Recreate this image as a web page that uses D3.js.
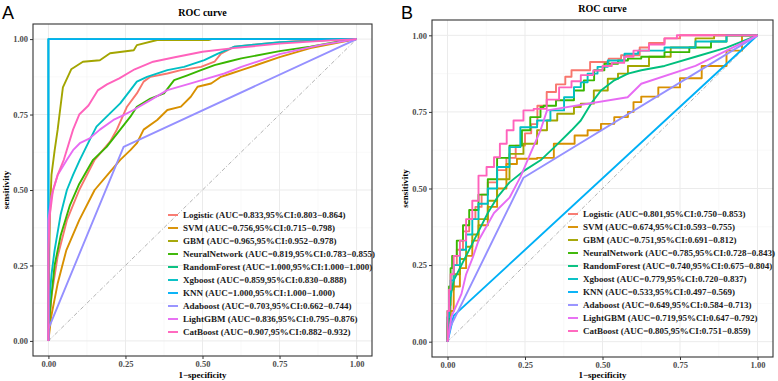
<!DOCTYPE html>
<html><head><meta charset="utf-8">
<script src="https://cdn.jsdelivr.net/npm/d3@7"></script>
<style>body{margin:0;background:#fff}svg{display:block}</style>
</head><body>
<svg id="chart" width="778" height="381"></svg>
<script>
// ---------- DATA ----------
const models = ["Logistic","SVM","GBM","NeuralNetwork","RandomForest","Xgboost","KNN","Adaboost","LightGBM","CatBoost"];
const colors = ["#F8766D","#D89000","#A3A500","#39B600","#00BF7D","#00BFC4","#00B0F6","#9590FF","#E76BF3","#FF62BC"];
const aucA = ["0.833,95%CI:0.803\u22120.864","0.756,95%CI:0.715\u22120.798","0.965,95%CI:0.952\u22120.978","0.819,95%CI:0.783\u22120.855","1.000,95%CI:1.000\u22121.000","0.859,95%CI:0.830\u22120.888","1.000,95%CI:1.000\u22121.000","0.703,95%CI:0.662\u22120.744","0.836,95%CI:0.795\u22120.876","0.907,95%CI:0.882\u22120.932"];
const aucB = ["0.801,95%CI:0.750\u22120.853","0.674,95%CI:0.593\u22120.755","0.751,95%CI:0.691\u22120.812","0.785,95%CI:0.728\u22120.843","0.740,95%CI:0.675\u22120.804","0.779,95%CI:0.720\u22120.837","0.533,95%CI:0.497\u22120.569","0.649,95%CI:0.584\u22120.713","0.719,95%CI:0.647\u22120.792","0.805,95%CI:0.751\u22120.859"];
const ticks = [0,0.25,0.5,0.75,1];
const tickLabels = ["0.00","0.25","0.50","0.75","1.00"];

// panel A curves: [1-specificity, sensitivity]
const logisticA = [[0,0],[0.01,0.15],[0.03,0.28],[0.06,0.4],[0.1,0.5],[0.15,0.6],[0.2,0.66],[0.222,0.70],[0.255,0.776],[0.287,0.82],[0.309,0.859],[0.331,0.875],[0.386,0.886],[0.43,0.897],[0.495,0.908],[0.539,0.925],[0.56,0.952],[0.604,0.975],[0.7,0.985],[0.8,0.993],[1,1]];
const svmA = [[0,0],[0.009,0.08],[0.03,0.19],[0.058,0.3],[0.1,0.4],[0.15,0.5],[0.2,0.56],[0.233,0.60],[0.266,0.632],[0.287,0.655],[0.309,0.70],[0.353,0.732],[0.386,0.765],[0.43,0.776],[0.462,0.809],[0.484,0.842],[0.528,0.853],[0.56,0.875],[0.593,0.886],[0.626,0.897],[0.75,0.94],[0.85,0.97],[1,1]];
const gbmA = [[0,0],[0.003,0.3],[0.005,0.42],[0.01,0.55],[0.02,0.63],[0.03,0.7],[0.036,0.75],[0.047,0.84],[0.074,0.9],[0.112,0.925],[0.167,0.93],[0.2,0.953],[0.277,0.963],[0.287,0.98],[0.353,0.997],[0.52,0.997],[0.53,1],[1,1]];
const nnA = [[0,0],[0.005,0.1],[0.02,0.25],[0.04,0.35],[0.07,0.45],[0.1,0.52],[0.145,0.6],[0.189,0.643],[0.233,0.70],[0.266,0.743],[0.287,0.776],[0.331,0.803],[0.375,0.82],[0.408,0.864],[0.451,0.88],[0.495,0.897],[0.539,0.914],[0.582,0.925],[0.626,0.936],[0.75,0.96],[0.85,0.975],[0.93,0.99],[1,1]];
const rfA = [[0,0],[0,1],[1,1]];
const xgbA = [[0,0],[0.003,0.13],[0.01,0.22],[0.02,0.3],[0.04,0.42],[0.06,0.5],[0.08,0.55],[0.102,0.6],[0.134,0.666],[0.156,0.71],[0.189,0.743],[0.233,0.787],[0.266,0.831],[0.287,0.859],[0.32,0.875],[0.386,0.897],[0.44,0.908],[0.506,0.93],[0.55,0.952],[0.604,0.975],[0.75,0.99],[1,1]];
const knnA = [[0,0],[0,1],[1,1]];
const adaA = [[0,0],[0,0.04],[0.244,0.643],[1,1]];
const lgbmA = [[0,0],[0,0.4],[0.01,0.48],[0.03,0.55],[0.06,0.6],[0.08,0.632],[0.102,0.655],[0.134,0.671],[0.167,0.70],[0.211,0.732],[0.244,0.748],[0.276,0.765],[0.331,0.798],[0.386,0.831],[0.462,0.853],[0.517,0.87],[0.571,0.886],[0.626,0.908],[0.75,0.95],[0.88,0.98],[1,1]];
const catA = [[0,0],[0,0.3],[0.005,0.42],[0.015,0.5],[0.03,0.55],[0.05,0.6],[0.08,0.7],[0.1,0.75],[0.13,0.78],[0.16,0.83],[0.19,0.85],[0.23,0.87],[0.28,0.9],[0.34,0.925],[0.41,0.94],[0.5,0.958],[0.6,0.97],[0.75,0.985],[0.9,0.995],[1,1]];

// panel B curves
const logisticB = [[0,0],[0.01,0.08],[0.02,0.18],[0.03,0.25],[0.05,0.3],[0.07,0.36],[0.09,0.4],[0.11,0.44],[0.13,0.48],[0.16,0.52],[0.19,0.56],[0.22,0.6],[0.25,0.64],[0.27,0.68],[0.29,0.71],[0.32,0.77],[0.35,0.815],[0.38,0.84],[0.4,0.865],[0.46,0.886],[0.52,0.913],[0.56,0.924],[0.62,0.935],[0.65,0.96],[0.7,0.975],[0.75,0.99],[0.78,1],[1,1]];
const svmB = [[0,0],[0.01,0.05],[0.02,0.1],[0.04,0.18],[0.06,0.24],[0.08,0.28],[0.1,0.33],[0.13,0.38],[0.16,0.44],[0.19,0.5],[0.224,0.58],[0.289,0.597],[0.343,0.6],[0.345,0.646],[0.41,0.646],[0.452,0.673],[0.495,0.69],[0.538,0.711],[0.582,0.733],[0.6,0.75],[0.625,0.782],[0.68,0.8],[0.75,0.83],[0.82,0.86],[0.9,0.9],[0.95,0.95],[1,1]];
const gbmB = [[0,0],[0.005,0.06],[0.01,0.12],[0.02,0.17],[0.04,0.22],[0.06,0.27],[0.08,0.31],[0.1,0.35],[0.13,0.4],[0.16,0.46],[0.2,0.53],[0.245,0.613],[0.289,0.646],[0.321,0.69],[0.354,0.722],[0.408,0.744],[0.43,0.766],[0.472,0.777],[0.517,0.82],[0.55,0.858],[0.582,0.875],[0.65,0.9],[0.72,0.93],[0.8,0.96],[0.86,0.99],[0.9,1],[1,1]];
const nnB = [[0,0],[0,0.05],[0.005,0.1],[0.01,0.18],[0.015,0.24],[0.03,0.28],[0.05,0.33],[0.07,0.38],[0.1,0.43],[0.13,0.48],[0.16,0.53],[0.2,0.6],[0.24,0.64],[0.267,0.69],[0.3,0.733],[0.31,0.766],[0.35,0.77],[0.408,0.788],[0.44,0.82],[0.473,0.853],[0.506,0.886],[0.55,0.907],[0.582,0.918],[0.625,0.924],[0.7,0.93],[0.78,0.945],[0.85,0.96],[0.9,0.98],[0.95,1],[1,1]];
const rfB = [[0,0],[0.005,0.08],[0.01,0.15],[0.02,0.2],[0.04,0.24],[0.06,0.28],[0.08,0.32],[0.1,0.36],[0.13,0.42],[0.16,0.47],[0.2,0.52],[0.25,0.56],[0.3,0.592],[0.35,0.64],[0.4,0.69],[0.43,0.722],[0.463,0.777],[0.495,0.82],[0.538,0.853],[0.582,0.875],[0.625,0.886],[0.7,0.9],[0.8,0.93],[0.9,0.96],[1,1]];
const xgbB = [[0,0],[0.005,0.08],[0.01,0.15],[0.02,0.2],[0.04,0.25],[0.06,0.3],[0.08,0.35],[0.1,0.4],[0.13,0.45],[0.16,0.5],[0.2,0.57],[0.235,0.635],[0.289,0.70],[0.332,0.722],[0.376,0.755],[0.408,0.798],[0.43,0.831],[0.452,0.847],[0.484,0.875],[0.517,0.897],[0.571,0.918],[0.615,0.94],[0.7,0.95],[0.8,0.96],[0.9,0.98],[1,1]];
const knnB = [[0,0],[0.02,0.085],[1,1]];
const adaB = [[0,0],[0.01,0.05],[0.245,0.535],[1,1]];
const lgbmB = [[0,0],[0.012,0.08],[0.045,0.156],[0.06,0.22],[0.082,0.276],[0.1,0.33],[0.15,0.42],[0.2,0.47],[0.235,0.537],[0.267,0.613],[0.3,0.69],[0.321,0.755],[0.581,0.798],[0.625,0.842],[0.8,0.9],[1,1]];
const catB = [[0,0],[0.005,0.1],[0.01,0.17],[0.02,0.22],[0.04,0.28],[0.06,0.33],[0.08,0.4],[0.1,0.46],[0.126,0.542],[0.15,0.57],[0.169,0.602],[0.191,0.646],[0.213,0.69],[0.245,0.722],[0.278,0.755],[0.32,0.76],[0.36,0.79],[0.4,0.83],[0.43,0.85],[0.47,0.87],[0.5,0.885],[0.53,0.9],[0.57,0.91],[0.6,0.93],[0.65,0.95],[0.7,0.97],[0.74,0.99],[0.77,1],[1,1]];

const curvesA = [logisticA,svmA,gbmA,nnA,rfA,xgbA,knnA,adaA,lgbmA,catA];
const curvesB = [logisticB,svmB,gbmB,nnB,rfB,xgbB,knnB,adaB,lgbmB,catB];
// which panel-B curves are drawn as staircases
const stepB = [true,true,true,true,false,true,false,false,false,true];
const stepA = [false,false,false,false,false,false,false,false,false,false];

// ---------- DRAW ----------
const svg = d3.select("#chart");
const serif = "'Liberation Serif','Times New Roman',serif";

function panel(cfg){
  const {x0,y0,x1,y1,curves,auc,letter,lx,legX,legY,steps} = cfg;
  const g = svg.append("g");
  const x = d3.scaleLinear().domain([-0.05,1.05]).range([x0,x1]);
  const y = d3.scaleLinear().domain([-0.05,1.05]).range([y1,y0]);
  g.append("rect").attr("x",x0).attr("y",y0).attr("width",x1-x0).attr("height",y1-y0).attr("fill","#fff");
  const minor = [0.125,0.375,0.625,0.875];
  g.selectAll(".gxm").data(minor).join("line").attr("x1",d=>x(d)).attr("x2",d=>x(d)).attr("y1",y0).attr("y2",y1).attr("stroke","#F2F2F2").attr("stroke-width",0.5);
  g.selectAll(".gym").data(minor).join("line").attr("y1",d=>y(d)).attr("y2",d=>y(d)).attr("x1",x0).attr("x2",x1).attr("stroke","#F2F2F2").attr("stroke-width",0.5);
  g.selectAll(".gx").data(ticks).join("line").attr("x1",d=>x(d)).attr("x2",d=>x(d)).attr("y1",y0).attr("y2",y1).attr("stroke","#EBEBEB").attr("stroke-width",1);
  g.selectAll(".gy").data(ticks).join("line").attr("y1",d=>y(d)).attr("y2",d=>y(d)).attr("x1",x0).attr("x2",x1).attr("stroke","#EBEBEB").attr("stroke-width",1);
  g.append("line").attr("x1",x(0)).attr("y1",y(0)).attr("x2",x(1)).attr("y2",y(1))
    .attr("stroke","#A0A0A0").attr("stroke-width",0.8).attr("stroke-dasharray","4,2,1,2");
  curves.forEach((c,i)=>{
    const line = d3.line().x(d=>x(d[0])).y(d=>y(d[1])).curve(steps[i] ? d3.curveStepBefore : d3.curveLinear);
    g.append("path").datum(c).attr("d",line).attr("fill","none").attr("stroke",colors[i])
      .attr("stroke-width",1.9).attr("stroke-linejoin","round");
  });
  g.append("rect").attr("x",x0).attr("y",y0).attr("width",x1-x0).attr("height",y1-y0)
    .attr("fill","none").attr("stroke","#333").attr("stroke-width",1.1);
  const ax = d3.axisBottom(x).tickValues(ticks).tickFormat((d,i)=>tickLabels[i]).tickSize(3).tickPadding(2);
  const ay = d3.axisLeft(y).tickValues(ticks).tickFormat((d,i)=>tickLabels[i]).tickSize(3).tickPadding(2);
  const gx = g.append("g").attr("transform",`translate(0,${y1})`).call(ax);
  const gy = g.append("g").attr("transform",`translate(${x0},0)`).call(ay);
  [gx,gy].forEach(a=>{
    a.select(".domain").remove();
    a.selectAll("line").attr("stroke","#333");
    a.selectAll("text").attr("fill","#4D4D4D").style("font-family",serif).style("font-size","8.5px").style("font-weight","bold");
  });
  g.append("text").attr("x",(x0+x1)/2).attr("y",y0-8).attr("text-anchor","middle")
    .style("font-family",serif).style("font-size","10px").style("font-weight","bold").text("ROC curve");
  g.append("text").attr("x",(x0+x1)/2).attr("y",378).attr("text-anchor","middle")
    .style("font-family",serif).style("font-size","9px").style("font-weight","bold").text("1\u2212specificity");
  g.append("text").attr("transform",`translate(${x0-24},${(y0+y1)/2}) rotate(-90)`).attr("text-anchor","middle")
    .style("font-family",serif).style("font-size","9px").style("font-weight","bold").text("sensitivity");
  svg.append("text").attr("x",lx).attr("y",19).style("font-family","'Liberation Sans',Arial,sans-serif")
    .style("font-size","18px").text(letter);
  const lg = g.append("g");
  models.forEach((m,i)=>{
    const yy = legY + i*13;
    lg.append("line").attr("x1",legX).attr("x2",legX+10).attr("y1",yy).attr("y2",yy)
      .attr("stroke",colors[i]).attr("stroke-width",1.9);
    lg.append("text").attr("x",legX+15).attr("y",yy).attr("dy","0.33em")
      .style("font-family",serif).style("font-size","9px").style("font-weight","bold").attr("fill","#1a1a1a")
      .text(`${m} (AUC=${auc[i]})`);
  });
}

panel({x0:33,y0:24,x1:372,y1:356,curves:curvesA,auc:aucA,letter:"A",lx:2,legX:168,legY:215,steps:stepA});
panel({x0:432,y0:20,x1:773,y1:357,curves:curvesB,auc:aucB,letter:"B",lx:401,legX:568,legY:214,steps:stepB});
</script>
</body></html>
